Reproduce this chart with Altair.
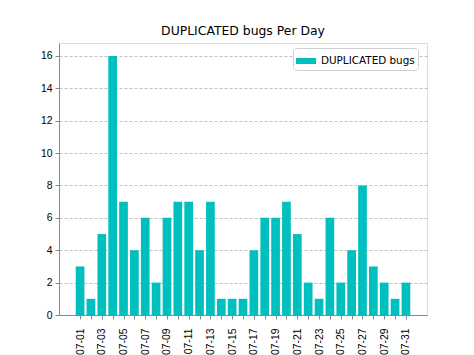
import altair as alt
import pandas as pd

dates = [f"2023-07-{d:02d}" for d in range(1, 32)]
counts = [3, 1, 5, 16, 7, 4, 6, 2, 6, 7, 7, 4, 7, 1, 1, 1, 4, 6, 6, 7, 5, 2, 1, 6, 2, 4, 8, 3, 2, 1, 2]
series = "DUPLICATED bugs"
title = "DUPLICATED bugs Per Day"
y_ticks = [0, 2, 4, 6, 8, 10, 12, 14, 16]
x_tick_days = list(range(1, 32))

df = pd.DataFrame({"date": dates, "count": counts, "series": series})

FONT = "DejaVu Sans"
FS = 10.4
DAY = 86400000
t0 = pd.Timestamp(dates[0], tz="UTC").value // 10**6
t1 = pd.Timestamp(dates[-1], tz="UTC").value // 10**6
margin = 1.94 * DAY

chart = alt.Chart(df).transform_calculate(
    start=f"toDate(datum.date) - 0.4 * {DAY}",
    end=f"toDate(datum.date) + 0.4 * {DAY}",
).mark_bar(color="#00bfbf").encode(
    x=alt.X(
        "start:T",
        scale=alt.Scale(type="utc", domain=[t0 - margin, t1 + margin], nice=False),
        axis=alt.Axis(
            title=None,
            values=[alt.DateTime(year=2023, month=7, date=d, utc=True) for d in x_tick_days],
            labelExpr="utcdate(datum.value) % 2 == 1 ? utcFormat(datum.value, '%Y-%m-%d') : ''",
            labelAngle=270,
            labelFontSize=FS,
            labelPadding=9,
            tickSize=4,
            grid=False,
            labelOverlap=False,
        ),
    ),
    x2="end:T",
    y=alt.Y(
        "count:Q",
        scale=alt.Scale(domain=[0, 16.8], nice=False, zero=True),
        axis=alt.Axis(
            title=None,
            values=y_ticks,
            labelFontSize=FS,
            labelPadding=3,
            tickSize=4,
            grid=True,
            gridDash=[3, 2],
            gridColor="#b0b0b0",
            gridWidth=0.8,
        ),
    ),
    y2=alt.datum(0),
    color=alt.Color(
        "series:N",
        scale=alt.Scale(range=["#00bfbf"]),
        legend=alt.Legend(
            title=None,
            orient="none",
            legendX=234,
            legendY=5,
            fillColor="white",
            strokeColor="#d0d0d0",
            cornerRadius=3,
            padding=3,
            labelFontSize=FS,
            labelFont=FONT,
            labelColor="black",
            symbolType="M-1,-0.3H1V0.3H-1Z",
            symbolSize=400,
            symbolStrokeWidth=0,
            symbolOpacity=1,
            labelOffset=5,
        ),
    ),
).properties(
    width=368,
    height=272,
    title=alt.TitleParams(
        text=title, font=FONT, fontSize=12.4, fontWeight="normal",
        color="black", anchor="middle", offset=6,
    ),
    autosize=alt.AutoSizeParams(type="none"),
    padding={"left": 59, "top": 43, "right": 47, "bottom": 40},
).configure_axis(
    labelFont=FONT,
    labelColor="black",
    tickColor="black",
    domainColor="black",
    domainWidth=1,
    tickWidth=1,
).configure_view(
    stroke="black",
    strokeWidth=1,
).configure(background="white")

chart.save("out.html", embed_options={"renderer": "svg", "actions": False})
